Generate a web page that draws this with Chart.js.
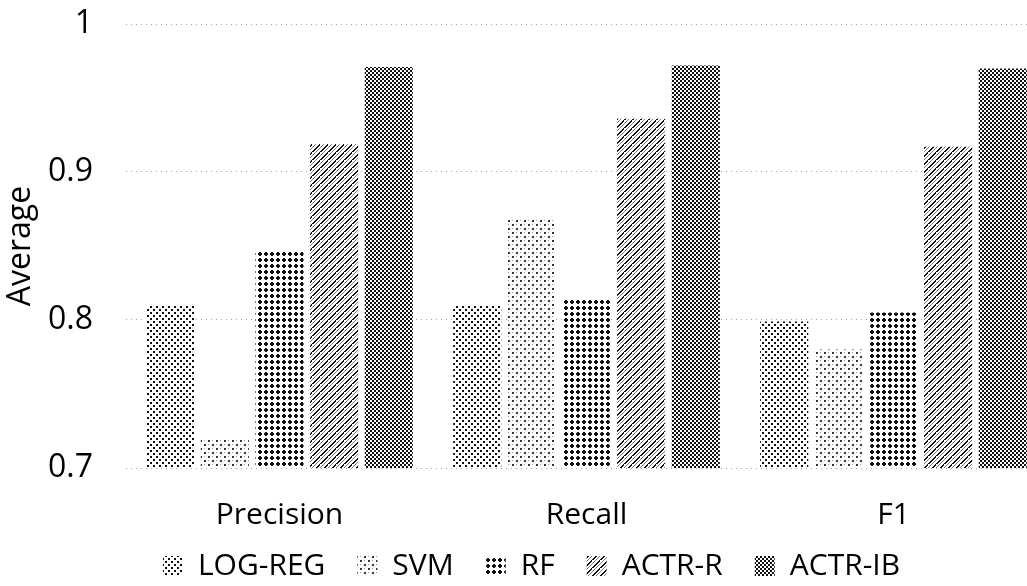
<!DOCTYPE html>
<html>
<head>
<meta charset="utf-8">
<script src="https://cdn.jsdelivr.net/npm/chart.js@4"></script>
<style>
  html, body { margin: 0; padding: 0; background: #fff; overflow: hidden; }
</style>
</head>
<body>
<canvas id="chart" width="1060" height="586"></canvas>
<script>
// Data
const categories = ['Precision', 'Recall', 'F1'];
const seriesNames = ['LOG-REG', 'SVM', 'RF', 'ACTR-R', 'ACTR-IB'];
const logReg = [0.810, 0.810, 0.799];
const svm = [0.719, 0.868, 0.780];
const rf = [0.847, 0.814, 0.805];
const actrR = [0.919, 0.936, 0.917];
const actrIB = [0.971, 0.972, 0.970];
const yTicks = [0.7, 0.8, 0.9, 1];

const ctx = document.getElementById('chart').getContext('2d');

// small black/white fill patterns, like the printed figure
function makePattern(size, draw) {
  const c = document.createElement('canvas');
  c.width = size;
  c.height = size;
  const g = c.getContext('2d');
  g.fillStyle = '#fff';
  g.fillRect(0, 0, size, size);
  g.fillStyle = '#111';
  draw(g);
  return ctx.createPattern(c, 'repeat');
}

const patterns = [
  makePattern(6, g => { g.fillRect(0, 0, 2, 2); g.fillRect(3, 3, 2, 2); }),
  makePattern(8, g => {
    g.fillStyle = '#333';
    g.fillRect(0, 0, 2, 2); g.fillRect(4, 4, 2, 2);
    g.fillStyle = '#999';
    g.fillRect(4, 0, 1, 1); g.fillRect(0, 4, 1, 1);
  }),
  makePattern(6, g => { g.fillRect(0, 1, 4, 2); g.fillRect(1, 0, 2, 4); }),
  makePattern(8, g => {
    for (let i = 0; i < 8; i++) {
      g.fillStyle = '#111';
      g.fillRect(i, 7 - i, 2, 1);
      g.fillStyle = '#777';
      g.fillRect(i, (11 - i) % 8, 1, 1);
    }
  }),
  makePattern(4, g => { g.fillRect(0, 0, 2, 2); g.fillRect(2, 2, 2, 2); })
];

const values = [logReg, svm, rf, actrR, actrIB];
const font = 'Open Sans';

// pin the plot box and the legend row to where the figure has them
const pinLayout = {
  id: 'pinLayout',
  afterLayout(chart) {
    const top = 24, bottom = 468;
    const area = chart.chartArea;
    area.top = top;
    area.bottom = bottom;
    area.height = bottom - top;

    const y = chart.scales.y;
    y.top = top;
    y.bottom = bottom;
    y.height = bottom - top;
    y.configure();

    const x = chart.scales.x;
    x.top = bottom;
    x.bottom = bottom + 80;
    x.height = 80;

    const lg = chart.legend;
    const dy = 519 - lg.top;
    lg.top += dy;
    lg.bottom += dy;
    lg.left += 8;
    lg.right += 8;
  }
};

new Chart(ctx, {
  type: 'bar',
  data: {
    labels: categories,
    datasets: seriesNames.map((name, i) => ({
      label: name,
      data: values[i],
      backgroundColor: patterns[i],
      borderWidth: 0,
      categoryPercentage: 0.89,
      barPercentage: 0.88
    }))
  },
  options: {
    responsive: false,
    animation: false,
    devicePixelRatio: 1,
    layout: { padding: { top: 0, right: 13, left: 0, bottom: 0 } },
    scales: {
      x: {
        afterFit: axis => { axis.height = 43; },
        grid: { display: false, drawTicks: false },
        border: { display: false },
        ticks: { color: '#000', font: { family: font, size: 30 }, padding: 29 }
      },
      y: {
        min: 0.7,
        max: 1,
        afterBuildTicks: axis => { axis.ticks = yTicks.map(v => ({ value: v })); },
        afterFit: axis => { axis.width = 126; },
        grid: { color: '#a0a0a0', drawTicks: false },
        border: { display: false, dash: [1, 4] },
        ticks: {
          color: '#000',
          font: { family: font, size: 32 },
          padding: 33,
          callback: v => String(Math.round(v * 10) / 10)
        },
        title: {
          display: true,
          text: 'Average',
          color: '#000',
          font: { family: font, size: 32 },
          padding: { top: 2, bottom: 4 }
        }
      }
    },
    plugins: {
      legend: {
        position: 'bottom',
        labels: {
          color: '#000',
          font: { family: font, size: 30 },
          boxWidth: 20,
          boxHeight: 20,
          padding: 32
        }
      },
      tooltip: { enabled: false }
    }
  },
  plugins: [pinLayout]
});
</script>
</body>
</html>
